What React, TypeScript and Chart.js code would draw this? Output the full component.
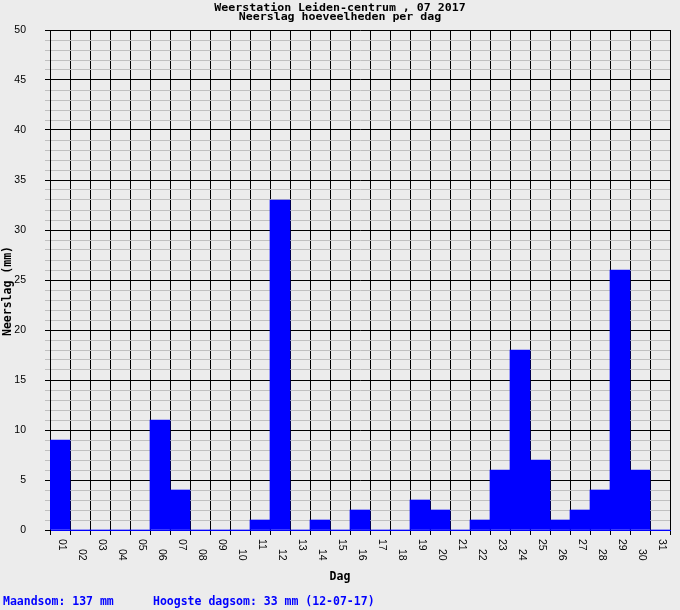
import React, { useEffect, useRef } from 'react';
import { Chart, registerables } from 'chart.js';

Chart.register(...registerables);

// ---- data ----
const days = ['01', '02', '03', '04', '05', '06', '07', '08', '09', '10', '11', '12', '13', '14', '15', '16', '17', '18', '19', '20', '21', '22', '23', '24', '25', '26', '27', '28', '29', '30', '31'];
const rainfallMm = [9, 0, 0, 0, 0, 11, 4, 0, 0, 0, 1, 33, 0, 1, 0, 2, 0, 0, 3, 2, 0, 1, 6, 18, 7, 1, 2, 4, 26, 6, 0];
const titleLines = ['Weerstation Leiden-centrum , 07 2017', 'Neerslag hoeveelheden per dag'];
const yAxisTitle = 'Neerslag (mm)';
const xAxisTitle = 'Dag';
const monthTotalText = 'Maandsom: 137 mm';
const maxDayText = 'Hoogste dagsom: 33 mm (12-07-17)';
const yMin = 0;
const yMax = 50;
const yStep = 1;
const yLabelEvery = 5;

const BG = '#ececec';
const BAR = '#0000ff';
const MONO_BOLD = 'bold 11.5px "DejaVu Sans Mono", "Liberation Mono", monospace';
const TITLE_FONT = 'bold 10px "DejaVu Sans Mono", "Liberation Mono", monospace';
const SANS = '10.5px "Liberation Sans", Arial, sans-serif';

const backgroundPlugin = {
  id: 'pageBackground',
  beforeDraw(chart: any) {
    const { ctx, width, height } = chart;
    ctx.save();
    ctx.fillStyle = BG;
    ctx.fillRect(0, 0, width, height);
    ctx.restore();
  },
};

const textPlugin = {
  id: 'extraText',
  afterDraw(chart: any) {
    const { ctx, width } = chart;
    const xScale = chart.scales.x;
    const area = chart.chartArea;
    ctx.save();

    // title (widened pixel-like mono)
    ctx.fillStyle = '#000';
    ctx.font = TITLE_FONT;
    ctx.textAlign = 'center';
    ctx.textBaseline = 'alphabetic';
    const sx = 1.16;
    ctx.save();
    ctx.translate(width / 2, 0);
    ctx.scale(sx, 1);
    ctx.fillText(titleLines[0], 0, 11);
    ctx.fillText(titleLines[1], 0, 20);
    ctx.restore();

    // x tick labels (rotated, staggered)
    ctx.font = SANS;
    ctx.textAlign = 'left';
    ctx.textBaseline = 'middle';
    days.forEach((d, i) => {
      const x = xScale.getPixelForTick(i) + 2;
      const y = area.bottom + (i % 2 === 0 ? 9 : 19);
      ctx.save();
      ctx.translate(x, y);
      ctx.rotate(Math.PI / 2);
      ctx.fillText(d, 0, 0);
      ctx.restore();
    });

    // x axis title
    ctx.font = MONO_BOLD;
    ctx.textAlign = 'center';
    ctx.textBaseline = 'alphabetic';
    ctx.fillText(xAxisTitle, width / 2, 580);

    // y axis title
    ctx.save();
    ctx.translate(8, 291);
    ctx.rotate(-Math.PI / 2);
    ctx.textBaseline = 'middle';
    ctx.fillText(yAxisTitle, 0, 0);
    ctx.restore();

    // footer
    ctx.fillStyle = BAR;
    ctx.textAlign = 'left';
    ctx.textBaseline = 'alphabetic';
    ctx.fillText(monthTotalText, 3, 605);
    ctx.fillText(maxDayText, 153, 605);

    ctx.restore();
  },
};

export default function App() {
  const canvasRef = useRef<HTMLCanvasElement | null>(null);

  useEffect(() => {
    if (!canvasRef.current) return;
    const chart = new Chart(canvasRef.current, {
      type: 'bar',
      data: {
        labels: days,
        datasets: [
          {
            data: rainfallMm,
            backgroundColor: BAR,
            borderWidth: 0,
            barPercentage: 1,
            categoryPercentage: 1,
          },
        ],
      },
      options: {
        animation: false,
        responsive: false,
        layout: { padding: { top: 30, right: 10, left: 0, bottom: 0 } },
        plugins: {
          legend: { display: false },
          title: { display: false },
          tooltip: { enabled: false },
        },
        scales: {
          x: {
            type: 'category',
            offset: true,
            grid: { color: '#000', lineWidth: 1, tickLength: 5, offset: true },
            border: { color: BAR, width: 1 },
            ticks: { display: false },
            afterFit: (s: any) => {
              s.height = 80;
            },
          },
          y: {
            type: 'linear',
            min: yMin,
            max: yMax,
            grid: {
              color: (c: any) => (c.tick && c.tick.value % yLabelEvery === 0 ? '#000' : '#c0c0c0'),
              lineWidth: 1,
              tickLength: 5,
            },
            border: { color: '#000', width: 1 },
            ticks: {
              stepSize: yStep,
              autoSkip: false,
              padding: 19,
              color: '#000',
              font: { family: '"Liberation Sans", Arial, sans-serif', size: 10.5 },
              callback: (v: any) => (Number(v) % yLabelEvery === 0 ? String(v) : ''),
            },
            afterFit: (s: any) => {
              s.width = 50;
            },
          },
        },
      } as any,
      plugins: [backgroundPlugin, textPlugin],
    });
    return () => chart.destroy();
  }, []);

  return (
    <div style={{ position: 'absolute', left: 0, top: 0, width: 680, height: 610, background: BG }}>
      <canvas ref={canvasRef} width={680} height={610} style={{ display: 'block', width: 680, height: 610 }} />
    </div>
  );
}
